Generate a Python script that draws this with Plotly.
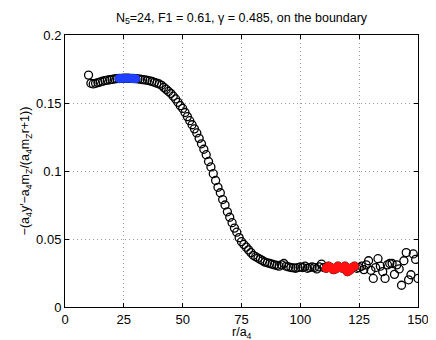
import plotly.graph_objects as go

# r/a4 from 10 to 150 in steps of 1
r = list(range(10, 151))
vals = [
    0.1705, 0.1645, 0.1640, 0.1645, 0.1650, 0.1655, 0.1660, 0.1665, 0.1668, 0.1671,  # 10-19
    0.1674, 0.1677, 0.1679, 0.1680, 0.1681, 0.1682, 0.1682, 0.1682, 0.1681, 0.1680,  # 20-29
    0.1679, 0.1677, 0.1675, 0.1672, 0.1670, 0.1667, 0.1663, 0.1658, 0.1652, 0.1646,  # 30-39
    0.1640, 0.1630, 0.1615, 0.1600, 0.1585, 0.1570, 0.1550, 0.1530, 0.1505, 0.1480,  # 40-49
    0.1460, 0.1430, 0.1400, 0.1370, 0.1340, 0.1310, 0.1280, 0.1240, 0.1200, 0.1160,  # 50-59
    0.1120, 0.1070, 0.1030, 0.0980, 0.0930, 0.0880, 0.0840, 0.0790, 0.0750, 0.0700,  # 60-69
    0.0660, 0.0620, 0.0580, 0.0550, 0.0510, 0.0480, 0.0460, 0.0440, 0.0420, 0.0400,  # 70-79
    0.0380, 0.0370, 0.0360, 0.0350, 0.0340, 0.0330, 0.0325, 0.0320, 0.0315, 0.0310,  # 80-89
    0.0305, 0.0300, 0.0310, 0.0320, 0.0300, 0.0295, 0.0290, 0.0288, 0.0285, 0.0290,  # 90-99
    0.0295, 0.0290, 0.0300, 0.0285, 0.0290, 0.0295, 0.0290, 0.0280, 0.0295, 0.0315,  # 100-109
    0.0290, 0.0285, 0.0300, 0.0290, 0.0275, 0.0280, 0.0300, 0.0290, 0.0285, 0.0300,  # 110-119
    0.0260, 0.0270, 0.0290, 0.0300, 0.0285, 0.0290, 0.0300, 0.0275, 0.0310, 0.0340,  # 120-129
    0.0270, 0.0210, 0.0290, 0.0355, 0.0300, 0.0260, 0.0210, 0.0310, 0.0320, 0.0320,  # 130-139
    0.0240, 0.0310, 0.0280, 0.0160, 0.0340, 0.0400, 0.0200, 0.0237, 0.0390, 0.0350,  # 140-149
    0.0210,                                                                          # 150
]

# highlighted ranges
blue_r = [x for x in r if 23 <= x <= 30]
red_r = [x for x in r if 111 <= x <= 123]
blue_v = [vals[x - 10] for x in blue_r]
red_v = [vals[x - 10] for x in red_r]

font = "Liberation Sans, Arial, sans-serif"

fig = go.Figure()
fig.add_trace(go.Scatter(
    x=r, y=vals, mode="markers",
    marker=dict(symbol="circle-open", size=8, color="black", line=dict(width=1.3)),
    showlegend=False, hoverinfo="skip",
))
fig.add_trace(go.Scatter(
    x=blue_r, y=blue_v, mode="markers",
    marker=dict(symbol="circle", size=8, color="#2040ff", line=dict(width=1, color="#2040ff")),
    showlegend=False,
))
fig.add_trace(go.Scatter(
    x=red_r, y=red_v, mode="markers",
    marker=dict(symbol="circle", size=8, color="#ff1010", line=dict(width=1, color="#ff1010")),
    showlegend=False,
))

axis_common = dict(
    showline=True, linecolor="black", linewidth=1, mirror="ticks",
    ticks="inside", ticklen=4, tickcolor="black",
    showgrid=True, gridcolor="#9a9a9a", griddash="1px,3px", gridwidth=1,
    zeroline=False, tickfont=dict(size=13, color="black", family=font),
)

fig.update_layout(
    width=436, height=340,
    margin=dict(l=57, r=26, t=27, b=41),
    paper_bgcolor="white", plot_bgcolor="white",
    font=dict(family=font, color="black", size=13),
    title=dict(
        text="N<sub>5</sub>=24, F1 = 0.61, γ = 0.485, on the boundary",
        x=0.5, xanchor="center", xref="paper", y=0.985, yanchor="top",
        font=dict(size=12.5, family=font, color="black"),
    ),
    xaxis=dict(range=[0, 150], tickvals=[0, 25, 50, 75, 100, 125, 150], **axis_common),
    yaxis=dict(range=[0, 0.2], tickvals=[0, 0.05, 0.1, 0.15, 0.2],
               ticktext=["0", "0.05", "0.1", "0.15", "0.2"],
               title=dict(text="−(a<sub>4</sub>y′−a<sub>4</sub>m<sub>Z</sub>/(a<sub>4</sub>m<sub>Z</sub>r+1))",
                          standoff=3, font=dict(size=12.5)),
               **axis_common),
)

# x axis title placed just under the tick labels, as in the original
fig.add_annotation(
    text="r/a<sub>4</sub>", xref="paper", yref="paper", x=0.5, y=0,
    xanchor="center", yanchor="top", yshift=-16, showarrow=False,
    font=dict(size=12.5, family=font, color="black"),
)

fig.write_html("out.html")
